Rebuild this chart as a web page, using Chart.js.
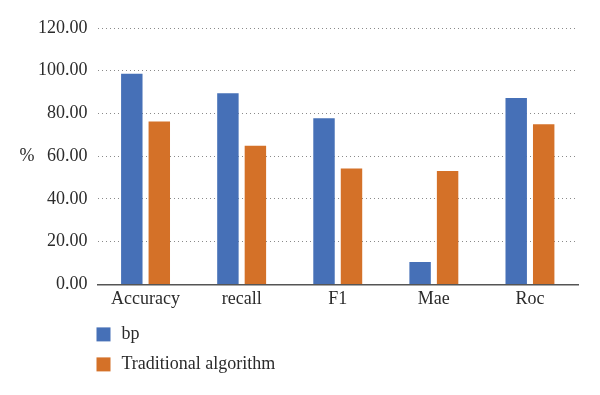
<!DOCTYPE html>
<html>
<head>
<meta charset="utf-8">
<script src="https://cdn.jsdelivr.net/npm/chart.js@4/dist/chart.umd.min.js"></script>
<style>
  html, body { margin: 0; padding: 0; background: #fff; }
  #wrap { width: 600px; height: 395px; position: relative; }
</style>
</head>
<body>
<div id="wrap"><canvas id="c" width="600" height="395"></canvas></div>
<script>
const categories = ["Accuracy", "recall", "F1", "Mae", "Roc"];
const bpValues = [98.6, 89.5, 77.8, 10.5, 87.2];
const traditionalValues = [76.2, 64.9, 54.3, 53.1, 75.0];
const seriesNames = ["bp", "Traditional algorithm"];
const yAxisLabel = "%";

const FONT = "'Liberation Serif', 'DejaVu Serif', serif";
const TEXT = "#2b2b2b";

const extraText = {
  id: 'extraText',
  afterDraw(chart) {
    const ctx = chart.ctx;
    const area = chart.chartArea;
    const y = chart.scales.y;
    ctx.save();
    ctx.fillStyle = TEXT;
    ctx.font = "18px " + FONT;
    ctx.textAlign = 'center';
    ctx.textBaseline = 'middle';
    ctx.fillText(yAxisLabel, 27, y.getPixelForValue(60));
    // legend (vertical, bottom-left)
    const x0 = area.left - 1;
    const rowY = [area.bottom + 50, area.bottom + 80];
    chart.data.datasets.forEach((ds, i) => {
      ctx.fillStyle = ds.backgroundColor;
      ctx.fillRect(x0, rowY[i] - 7, 14, 14);
      ctx.fillStyle = TEXT;
      ctx.textAlign = 'left';
      ctx.fillText(ds.label, x0 + 25, rowY[i]);
    });
    ctx.restore();
  }
};

new Chart(document.getElementById('c'), {
  type: 'bar',
  data: {
    labels: categories,
    datasets: [
      { label: seriesNames[0], data: bpValues, backgroundColor: '#4670B7' },
      { label: seriesNames[1], data: traditionalValues, backgroundColor: '#D47128' }
    ]
  },
  options: {
    responsive: false,
    animation: false,
    devicePixelRatio: 1,
    layout: { padding: { left: 28, right: 22, top: 28, bottom: 81 } },
    datasets: { bar: { categoryPercentage: 0.572, barPercentage: 0.78 } },
    plugins: {
      legend: { display: false },
      tooltip: { enabled: false }
    },
    scales: {
      x: {
        grid: { display: false, drawTicks: false },
        border: { display: true, color: '#555', width: 1.5 },
        ticks: { color: TEXT, font: { family: FONT, size: 18 }, padding: 4 }
      },
      y: {
        min: 0, max: 120,
        grid: { color: '#8a8a8a', lineWidth: 1, drawTicks: false, tickLength: 0 },
        border: { display: false, dash: [1, 3] },
        ticks: {
          stepSize: 20,
          color: TEXT,
          font: { family: FONT, size: 18 },
          padding: 10,
          callback: v => Number(v).toFixed(2)
        }
      }
    }
  },
  plugins: [extraText]
});
</script>
</body>
</html>
